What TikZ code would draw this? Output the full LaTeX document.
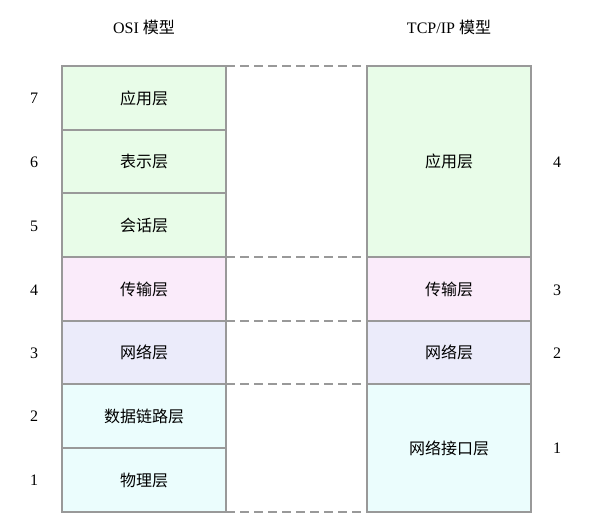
\documentclass[tikz,border=0pt]{standalone}
\usepackage{fontspec}
\setmainfont{Liberation Serif}
\newfontfamily\cjk{Noto Sans CJK SC}
\definecolor{lgreen}{HTML}{E8FCE8}
\definecolor{lpink}{HTML}{FAEBFA}
\definecolor{llav}{HTML}{EBEBFA}
\definecolor{lcyan}{HTML}{EBFDFD}
\definecolor{edge}{HTML}{999999}
\tikzset{
  layer/.style={draw=edge, line width=1.5pt, minimum width=164pt, inner sep=0pt, outer sep=0pt, font=\fontsize{16}{19}\selectfont\cjk},
  num/.style={font=\fontsize{16}{19}\selectfont, inner sep=0pt},
  ttl/.style={font=\fontsize{16}{19}\selectfont, inner sep=0pt},
  link/.style={draw=edge, line width=1.5pt, dash pattern=on 9pt off 5pt}
}
\begin{document}
\begin{tikzpicture}[x=1pt,y=-1pt]
\useasboundingbox (0,0) rectangle (591,521);
% titles
\node[ttl] (t1) at (144,27) {OSI {\cjk 模型}};
\node[ttl] (t2) at (449,27) {TCP/IP {\cjk 模型}};
% OSI layers
\node[layer, fill=lgreen, minimum height=64pt] (l7) at (144,98) {应用层};
\node[layer, fill=lgreen, minimum height=63pt] (l6) at (144,161.5) {表示层};
\node[layer, fill=lgreen, minimum height=64pt] (l5) at (144,225) {会话层};
\node[layer, fill=lpink, minimum height=64pt] (l4) at (144,289) {传输层};
\node[layer, fill=llav, minimum height=63pt] (l3) at (144,352.5) {网络层};
\node[layer, fill=lcyan, minimum height=64pt] (l2) at (144,416) {数据链路层};
\node[layer, fill=lcyan, minimum height=64pt] (l1) at (144,480) {物理层};
% TCP/IP layers
\node[layer, fill=lgreen, minimum height=191pt] (r4) at (449,161.5) {应用层};
\node[layer, fill=lpink, minimum height=64pt] (r3) at (449,289) {传输层};
\node[layer, fill=llav, minimum height=63pt] (r2) at (449,352.5) {网络层};
\node[layer, fill=lcyan, minimum height=128pt] (r1) at (449,448) {网络接口层};
% numbers
\node[num] (n7) at (34,98) {7};
\node[num] (n6) at (34,162) {6};
\node[num] (n5) at (34,226) {5};
\node[num] (n4) at (34,290) {4};
\node[num] (n3) at (34,353) {3};
\node[num] (n2) at (34,416) {2};
\node[num] (n1) at (34,480) {1};
\node[num] (m4) at (557,162) {4};
\node[num] (m3) at (557,290) {3};
\node[num] (m2) at (557,353) {2};
\node[num] (m1) at (557,448) {1};
% dashed correspondences
\draw[link] (l7.north east) -- (r4.north west);
\draw[link] (l5.south east) -- (r4.south west);
\draw[link] (l4.south east) -- (r3.south west);
\draw[link] (l3.south east) -- (r2.south west);
\draw[link] (l1.south east) -- (r1.south west);
\end{tikzpicture}
\end{document}
